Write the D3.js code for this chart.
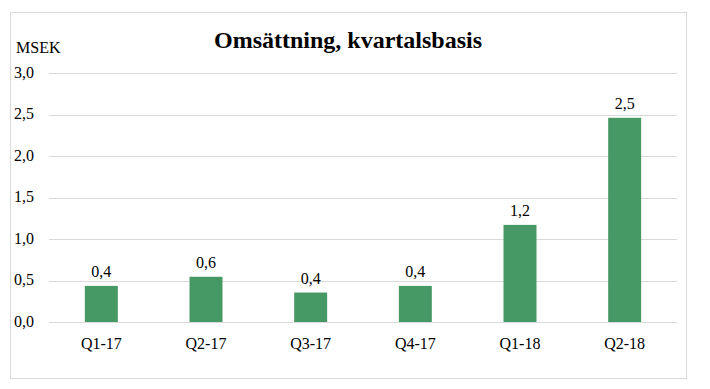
<!DOCTYPE html>
<html><head><meta charset="utf-8">
<script src="https://cdn.jsdelivr.net/npm/d3@7"></script>
<style>body{margin:0;background:#fff}svg{display:block}</style>
</head><body>
<script>
const categories = ["Q1-17","Q2-17","Q3-17","Q4-17","Q1-18","Q2-18"];
const values = [0.435, 0.545, 0.355, 0.435, 1.17, 2.46];
const labels = ["0,4","0,6","0,4","0,4","1,2","2,5"];
const yTicks = [0, 0.5, 1.0, 1.5, 2.0, 2.5, 3.0];
const yTickLabels = ["0,0","0,5","1,0","1,5","2,0","2,5","3,0"];

const FONT = "'Liberation Serif', 'Times New Roman', serif";
const W = 710, H = 389;
const svg = d3.select("body").append("svg").attr("width", W).attr("height", H)
  .attr("font-family", FONT);
svg.append("rect").attr("x",10.5).attr("y",12.5).attr("width",676).attr("height",366)
  .attr("fill","#fff").attr("stroke","#d9d9d9");

const x = d3.scaleBand().domain(categories).range([49, 677]).paddingInner(0.685).paddingOuter(0.3425);
const y = d3.scaleLinear().domain([0, 3]).range([322, 73]);

svg.append("g").selectAll("line").data(yTicks).join("line")
  .attr("x1", 49).attr("x2", 677)
  .attr("y1", d => Math.round(y(d)) + 0.5).attr("y2", d => Math.round(y(d)) + 0.5)
  .attr("stroke", "#d9d9d9");

svg.append("g").selectAll("text").data(yTicks).join("text")
  .attr("x", 34).attr("y", d => y(d) + 4.5).attr("text-anchor", "end")
  .attr("font-size", 16).attr("fill", "#000").text((d, i) => yTickLabels[i]);

svg.append("g").selectAll("rect").data(values).join("rect")
  .attr("x", (d, i) => x(categories[i])).attr("width", x.bandwidth())
  .attr("y", d => y(d)).attr("height", d => y(0) - y(d))
  .attr("fill", "#469865");

svg.append("g").selectAll("text").data(values).join("text")
  .attr("x", (d, i) => x(categories[i]) + x.bandwidth() / 2)
  .attr("y", d => y(d) - 9).attr("text-anchor", "middle")
  .attr("font-size", 16).attr("fill", "#000").text((d, i) => labels[i]);

svg.append("g").selectAll("text").data(categories).join("text")
  .attr("x", d => x(d) + x.bandwidth() / 2).attr("y", 349)
  .attr("text-anchor", "middle").attr("font-size", 16).attr("fill", "#000").text(d => d);

svg.append("text").attr("x", 16).attr("y", 53).attr("font-size", 16).attr("fill", "#000").text("MSEK");
svg.append("text").attr("x", 348).attr("y", 48).attr("text-anchor", "middle")
  .attr("font-size", 24).attr("font-weight", "bold").attr("fill", "#000").text("Omsättning, kvartalsbasis");
</script>
</body></html>
